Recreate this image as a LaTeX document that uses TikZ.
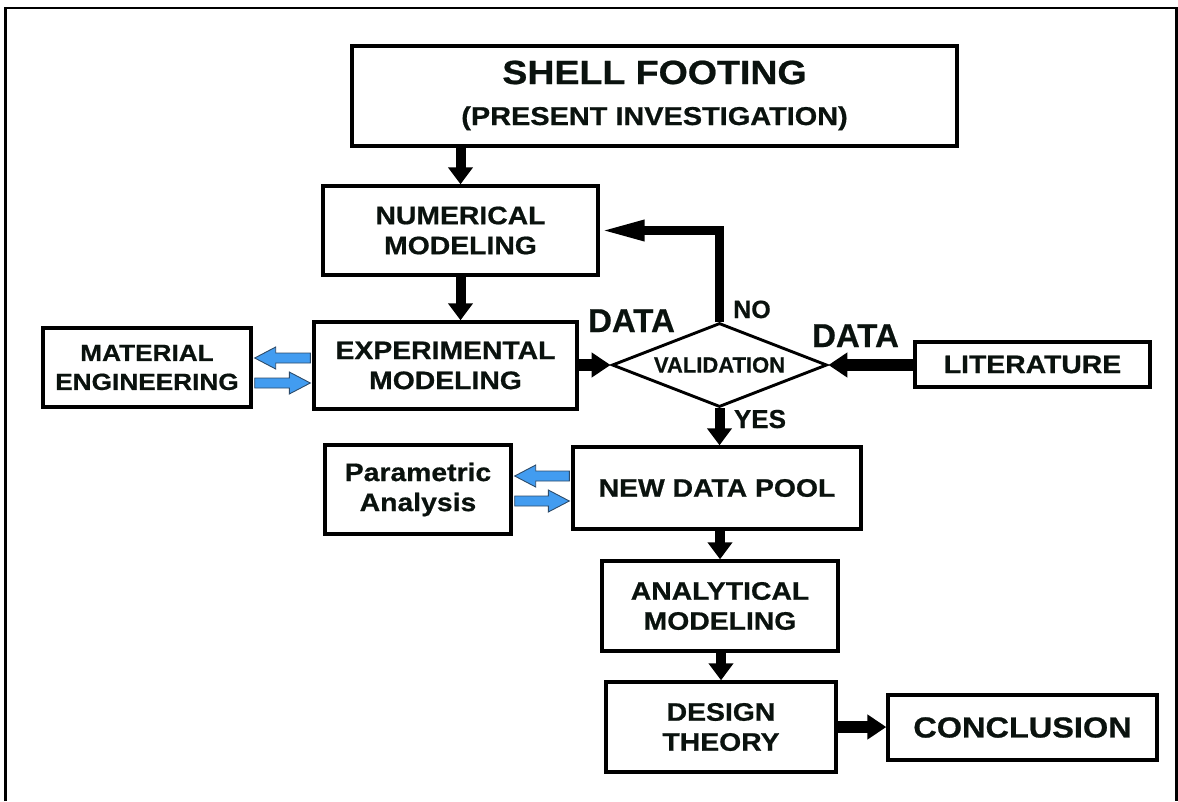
\documentclass[tikz,border=0pt]{standalone}
\usepackage{fontspec}
\setmainfont{Liberation Sans}
\newfontfamily\widefont[FakeStretch=1.12,FakeBold=0.7]{Liberation Sans Bold}
\newfontfamily\labelfont[FakeBold=0.6]{Liberation Sans Bold}
\usetikzlibrary{arrows.meta,shapes.geometric,calc}
\definecolor{arrowblue}{RGB}{66,156,240}
\definecolor{arrowedge}{RGB}{45,75,105}
\definecolor{inktext}{RGB}{10,18,14}
\newcommand\boxfont{\widefont\fontsize{25.3}{30}\selectfont}
\newcommand\labfont[1]{\labelfont\fontsize{#1}{#1}\selectfont}
\newcommand\blockarr[2]{%
  \filldraw[fill=arrowblue,draw=arrowedge,line width=0.9pt,line join=miter]
    ($(#1)+(0pt,5pt)$) -- ($(#2)!21pt!(#1)+(0pt,5pt)$) -- ($(#2)!21pt!(#1)+(0pt,11pt)$)
    -- (#2) -- ($(#2)!21pt!(#1)+(0pt,-11pt)$) -- ($(#2)!21pt!(#1)+(0pt,-5pt)$)
    -- ($(#1)+(0pt,-5pt)$) -- cycle;}
\tikzset{
  box/.style={draw=black, line width=3.4pt, fill=white, inner sep=0pt, align=center,
              text=inktext, font=\boxfont},
  lab/.style={anchor=base, inner sep=0pt, text=inktext},
  blk/.style={line width=10pt, -{Triangle[width=24pt,length=17pt]}},
  blkh/.style={line width=12pt, -{Triangle[width=24pt,length=19pt]}},
  noarrow/.style={line width=9pt, line join=miter, -{Triangle[width=19pt,length=45pt]}},
}
\begin{document}
\begin{tikzpicture}[x=1pt,y=-1pt]
\useasboundingbox (0,0) rectangle (1178,801);
% outer frame
\draw[line width=2.4pt] (5.5,801) -- (5.5,8) -- (1176.5,8) -- (1176.5,801);

% boxes
\node[box, minimum width=605pt, minimum height=100pt] (shell) at (654.5,96) {};
\node[lab, font=\widefont\fontsize{33.5}{33}\selectfont] (shelltitle) at (654.5,84) {SHELL FOOTING};
\node[lab, font=\widefont\fontsize{25.8}{26}\selectfont] (shellsub) at (654.5,125) {(PRESENT INVESTIGATION)};

\node[box, minimum width=275pt, minimum height=89pt] (num) at (460.5,230.5) {NUMERICAL\\MODELING};
\node[box, minimum width=263pt, minimum height=87pt] (exp) at (445.5,365.5) {EXPERIMENTAL\\MODELING};
\node[box, minimum width=208pt, minimum height=79pt, font=\widefont\fontsize{23.4}{29}\selectfont] (mat) at (147,367.5) {MATERIAL\\ENGINEERING};
\node[box, minimum width=235pt, minimum height=45pt] (lit) at (1032.5,364.5) {LITERATURE};
\node[box, minimum width=288pt, minimum height=82pt] (ndp) at (717,488) {NEW DATA POOL};
\node[box, minimum width=186pt, minimum height=89pt] (par) at (418,489.5) {Parametric\\Analysis};
\node[box, minimum width=236pt, minimum height=90pt] (ana) at (720,606) {ANALYTICAL\\MODELING};
\node[box, minimum width=230pt, minimum height=90pt] (des) at (721,727) {DESIGN\\THEORY};
\node[box, minimum width=269pt, minimum height=65pt, font=\widefont\fontsize{29}{30}\selectfont] (con) at (1022.5,727.5) {CONCLUSION};

% decision
\node[diamond, draw=black, fill=white, line width=2.9pt, minimum width=215pt, minimum height=84pt,
      aspect=2.56, inner sep=0pt, text=inktext, font=\labfont{22}] (dia) at (719.5,365) {VALIDATION};

% labels
\node[lab, font=\labfont{33}] (dataL) at (631.5,332) {DATA};
\node[lab, font=\labfont{33}] (dataR) at (855.5,347) {DATA};
\node[lab, font=\labfont{25}] (nolab) at (752,318) {NO};
\node[lab, font=\labfont{26}] (yeslab) at (760,428) {YES};

% black connectors
\draw[blk] (num.north |- shell.south) -- (num.north);
\draw[blk] (num.south) -- (num.south |- exp.north);
\draw[blkh] (exp.east |- dia.west) -- (dia.west);
\draw[blkh] (lit.west |- dia.east) -- (dia.east);
\draw[noarrow] (dia.north) |- (num.east);
\draw[blk] (dia.south) -- (dia.south |- ndp.north);
\draw[blk] (ana.north |- ndp.south) -- (ana.north);
\draw[blk] (des.north |- ana.south) -- (des.north);
\draw[blkh] (des.east) -- (des.east -| con.west);

% blue block arrows
\coordinate (mU1) at ($(exp.west)+(-2pt,7.5pt)$);
\coordinate (mU2) at ($(mU1 -| mat.east)+(2pt,0pt)$);
\blockarr{mU1}{mU2}
\coordinate (mL1) at ($(mat.east)+(2pt,-15.5pt)$);
\coordinate (mL2) at ($(mL1 -| exp.west)+(-2pt,0pt)$);
\blockarr{mL1}{mL2}
\coordinate (pU1) at ($(ndp.west)+(-2pt,12pt)$);
\coordinate (pU2) at ($(pU1 -| par.east)+(2pt,0pt)$);
\blockarr{pU1}{pU2}
\coordinate (pL1) at ($(par.east)+(2pt,-11.5pt)$);
\coordinate (pL2) at ($(pL1 -| ndp.west)+(-2pt,0pt)$);
\blockarr{pL1}{pL2}
\end{tikzpicture}
\end{document}
